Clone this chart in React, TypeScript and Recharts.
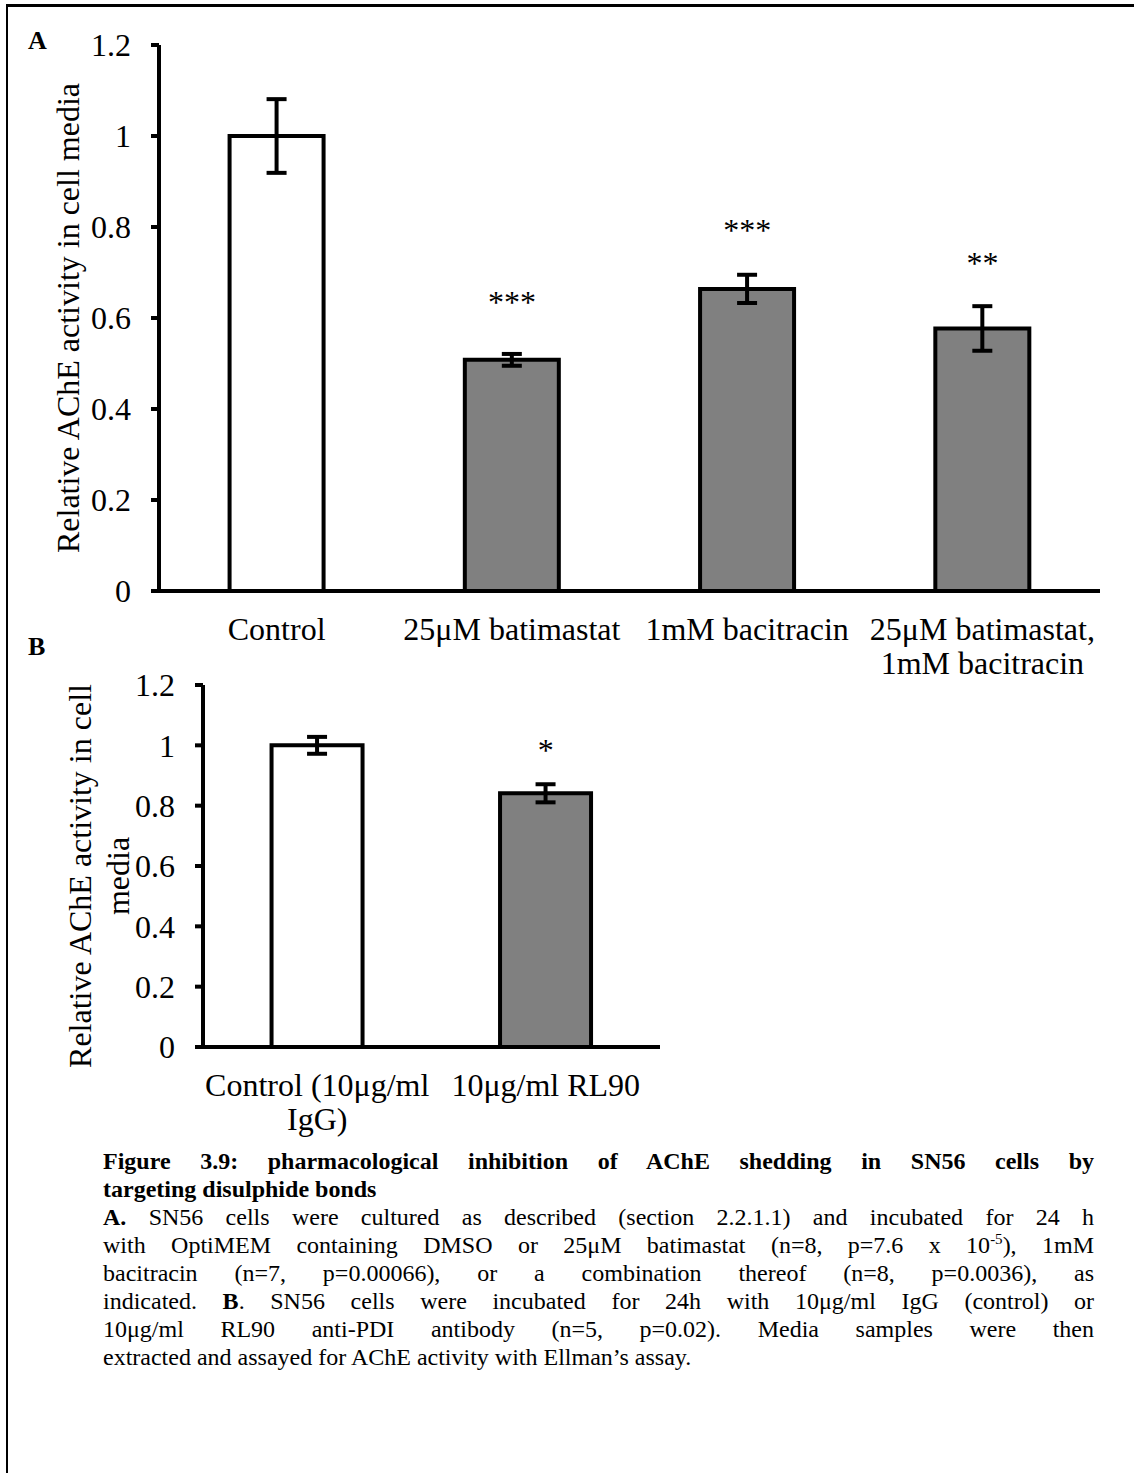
import { Bar, Cell, ComposedChart, ErrorBar, Line, XAxis, YAxis } from 'recharts'

const FONT = '"Liberation Serif", "Times New Roman", serif'

// panel A
const categoriesA = ['Control', '25μM batimastat', '1mM bacitracin', '25μM batimastat,\n1mM bacitracin']
const valuesA = [1.0, 0.508, 0.664, 0.577]
const errorsA = [0.081, 0.013, 0.031, 0.049]
const sigMarksA = ['', '***', '***', '**']
const sigLevelsA = [null, 0.646, 0.804, 0.732]
const fillsA = ['#ffffff', '#808080', '#808080', '#808080']

// panel B
const categoriesB = ['Control (10μg/ml\nIgG)', '10μg/ml RL90']
const valuesB = [1.0, 0.841]
const errorsB = [0.028, 0.03]
const sigMarksB = ['', '*']
const sigLevelsB = [null, 1.0]
const fillsB = ['#ffffff', '#808080']

const yTicks = [0, 0.2, 0.4, 0.6, 0.8, 1, 1.2]
const yTickLabels = ['0', '0.2', '0.4', '0.6', '0.8', '1', '1.2']

function buildRows(cats: string[], vals: number[], errs: number[], sig: (number | null)[]) {
  return cats.map((name, i) => ({ name, value: vals[i], err: errs[i], sig: sig[i] }))
}

const dataA = buildRows(categoriesA, valuesA, errorsA, sigLevelsA)
const dataB = buildRows(categoriesB, valuesB, errorsB, sigLevelsB)

function CategoryTick(props: any) {
  const { x, y, payload } = props
  const lines = String(payload.value).split('\n')
  return (
    <text x={x} y={y} textAnchor="middle" fontFamily={FONT} fontSize={32} fill="#000">
      {lines.map((l, i) => (
        <tspan key={i} x={x} dy={i === 0 ? '0.71em' : 34}>
          {l}
        </tspan>
      ))}
    </text>
  )
}

function makeStar(marks: string[]) {
  return (props: any) => {
    const { x, y, index, value } = props
    if (value == null || !marks[index]) return null
    return (
      <text key={index} x={x} y={y + 16} textAnchor="middle" fontFamily={FONT} fontSize={32} fill="#000">
        {marks[index]}
      </text>
    )
  }
}

function makeTitle(lines: string[], cx: number, shift: number) {
  return (props: any) => {
    const vb = props.viewBox
    const cy = vb.y + vb.height / 2 + shift
    return (
      <text
        x={cx}
        y={cy}
        transform={`rotate(-90, ${cx}, ${cy})`}
        textAnchor="middle"
        dominantBaseline="central"
        fontFamily={FONT}
        fontSize={32}
        fill="#000"
      >
        {lines.map((l, i) => (
          <tspan key={i} x={cx} dy={i === 0 ? 0 : 38}>
            {l}
          </tspan>
        ))}
      </text>
    )
  }
}

const tickStyle = { fill: '#000', fontSize: 32, fontFamily: FONT }

function Panel(props: {
  data: any[]
  fills: string[]
  marks: string[]
  width: number
  height: number
  margin: any
  yWidth: number
  xHeight: number
  title: string[]
  titleX: number
  titleShift: number
}) {
  const n = props.data.length
  const edges = Array.from({ length: n + 1 }, (_, i) => i)
  return (
    <ComposedChart
      width={props.width}
      height={props.height}
      data={props.data}
      margin={props.margin}
      barCategoryGap="30%"
    >
      <XAxis
        xAxisId="edge"
        type="number"
        domain={[0, n]}
        ticks={edges}
        allowDataOverflow
        height={0}
        axisLine={false}
        tickLine={{ stroke: '#000', strokeWidth: 4 }}
        tickSize={9}
        tick={() => <g />}
      />
      <XAxis
        xAxisId="cat"
        dataKey="name"
        height={props.xHeight}
        axisLine={{ stroke: '#000', strokeWidth: 4 }}
        tickLine={false}
        tickSize={0}
        tickMargin={26}
        interval={0}
        tick={<CategoryTick />}
      />
      <YAxis
        width={props.yWidth}
        domain={[0, 1.2]}
        ticks={yTicks}
        tickFormatter={(v: number) => yTickLabels[yTicks.indexOf(v)] ?? String(v)}
        axisLine={{ stroke: '#000', strokeWidth: 4 }}
        tickLine={{ stroke: '#000', strokeWidth: 4 }}
        tickSize={8}
        tickMargin={20}
        tick={tickStyle}
        label={{ content: makeTitle(props.title, props.titleX, props.titleShift) } as any}
      />
      <Bar xAxisId="cat" dataKey="value" stroke="#000" strokeWidth={4} isAnimationActive={false}>
        {props.data.map((_, i) => (
          <Cell key={i} fill={props.fills[i]} />
        ))}
        <ErrorBar dataKey="err" width={10} strokeWidth={4} stroke="#000" direction="y" />
      </Bar>
      <Line
        xAxisId="cat"
        dataKey="sig"
        stroke="none"
        dot={false}
        activeDot={false}
        isAnimationActive={false}
        label={makeStar(props.marks)}
      />
    </ComposedChart>
  )
}

const captionLine = (justify: boolean): React.CSSProperties => ({
  textAlign: 'justify',
  textAlignLast: justify ? 'justify' : 'left',
  whiteSpace: 'nowrap',
})

export default function App() {
  return (
    <div
      style={{
        position: 'absolute',
        left: 0,
        top: 0,
        width: 1134,
        height: 1473,
        background: '#fff',
        fontFamily: FONT,
        color: '#000',
        overflow: 'hidden',
      }}
    >
      <div
        style={{
          position: 'absolute',
          left: 6,
          top: 4,
          width: 1200,
          height: 1500,
          borderTop: '3px solid #000',
          borderLeft: '2px solid #000',
        }}
      />
      <div style={{ position: 'absolute', left: 0, top: 0 }}>
        <Panel
          data={dataA}
          fills={fillsA}
          marks={sigMarksA}
          width={1134}
          height={700}
          margin={{ top: 45, right: 34, bottom: 0, left: 0 }}
          yWidth={159}
          xHeight={109}
          title={['Relative AChE activity in cell media']}
          titleX={68}
          titleShift={0}
        />
      </div>
      <div style={{ position: 'absolute', left: 0, top: 640 }}>
        <Panel
          data={dataB}
          fills={fillsB}
          marks={sigMarksB}
          width={700}
          height={507}
          margin={{ top: 45, right: 40, bottom: 0, left: 0 }}
          yWidth={203}
          xHeight={100}
          title={['Relative AChE activity in cell', 'media']}
          titleX={80}
          titleShift={10}
        />
      </div>
      <div style={{ position: 'absolute', left: 28, top: 26, fontSize: 26, fontWeight: 'bold' }}>A</div>
      <div style={{ position: 'absolute', left: 28, top: 632, fontSize: 26, fontWeight: 'bold' }}>B</div>
      <div
        style={{
          position: 'absolute',
          left: 103,
          top: 1147,
          width: 991,
          lineHeight: '28px',
          fontSize: 24,
        }}
      >
        <div style={{ ...captionLine(true), fontWeight: 'bold' }}>
          Figure 3.9: pharmacological inhibition of AChE shedding in SN56 cells by
        </div>
        <div style={{ ...captionLine(false), fontWeight: 'bold' }}>targeting disulphide bonds</div>
        <div style={captionLine(true)}>
          <b>A.</b> SN56 cells were cultured as described (section 2.2.1.1) and incubated for 24 h
        </div>
        <div style={captionLine(true)}>
          with OptiMEM containing DMSO or 25μM batimastat (n=8, p=7.6 x 10
          <sup style={{ fontSize: 15, lineHeight: 0 }}>-5</sup>), 1mM
        </div>
        <div style={captionLine(true)}>
          bacitracin (n=7, p=0.00066), or a combination thereof (n=8, p=0.0036), as
        </div>
        <div style={captionLine(true)}>
          indicated. <b>B</b>. SN56 cells were incubated for 24h with 10μg/ml IgG (control) or
        </div>
        <div style={captionLine(true)}>
          10μg/ml RL90 anti-PDI antibody (n=5, p=0.02). Media samples were then
        </div>
        <div style={captionLine(false)}>extracted and assayed for AChE activity with Ellman’s assay.</div>
      </div>
    </div>
  )
}
